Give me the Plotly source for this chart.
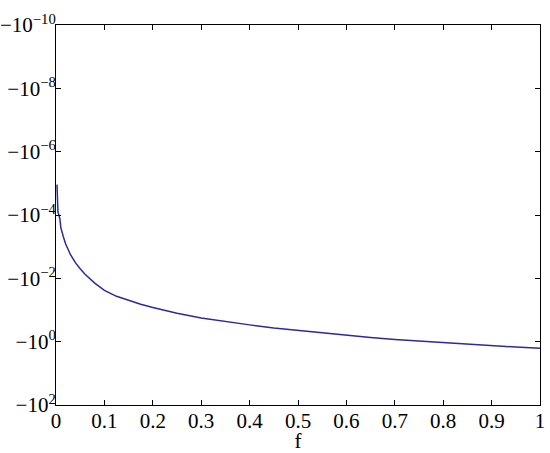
import plotly.graph_objects as go

# === Datos ===
f = [0.002, 0.0025, 0.004, 0.008, 0.01, 0.015, 0.02, 0.03, 0.04, 0.05,
     0.06, 0.08, 0.1, 0.125, 0.15, 0.175, 0.2, 0.25, 0.3, 0.35,
     0.4, 0.45, 0.5, 0.55, 0.6, 0.65, 0.7, 0.75, 0.8, 0.85,
     0.9, 0.95, 1.0]
valores = [-1.1e-5, -6.5e-5, -8.0e-5, -1.3e-4, -2.5e-4, -4.8e-4, -8.3e-4, -1.8e-3, -3.2e-3, -5.0e-3,
           -7.4e-3, -0.0141, -0.024, -0.037, -0.050, -0.066, -0.083, -0.126, -0.178, -0.234,
           -0.295, -0.372, -0.447, -0.537, -0.64, -0.741, -0.851, -0.955, -1.096, -1.23,
           -1.35, -1.48, -1.62]

x_ticks = [0, 0.1, 0.2, 0.3, 0.4, 0.5, 0.6, 0.7, 0.8, 0.9, 1]
x_labels = ["0", "0.1", "0.2", "0.3", "0.4", "0.5", "0.6", "0.7", "0.8", "0.9", "1"]
y_ticks = [-1e-10, -1e-8, -1e-6, -1e-4, -1e-2, -1e0, -1e2]
y_labels = ["\u221210<sup>\u221210</sup>", "\u221210<sup>\u22128</sup>", "\u221210<sup>\u22126</sup>",
            "\u221210<sup>\u22124</sup>", "\u221210<sup>\u22122</sup>", "\u221210<sup>0</sup>",
            "\u221210<sup>2</sup>"]

# eje logaritmico de valores negativos: se grafica la magnitud con el eje invertido
fig = go.Figure()
fig.add_trace(go.Scatter(
    x=f, y=[-v for v in valores],
    mode="lines",
    line=dict(color="#2a2a9e", width=1.5),
    showlegend=False
))

fuente = dict(family="Liberation Serif", size=21, color="black")

fig.update_layout(
    width=550, height=453,
    margin=dict(l=56, r=10, t=25, b=48),
    paper_bgcolor="white", plot_bgcolor="white",
    font=fuente,
)
fig.update_xaxes(
    range=[0, 1], tickvals=x_ticks, ticktext=x_labels,
    showline=True, linecolor="black", linewidth=1, mirror="ticks",
    ticks="inside", ticklen=5, tickcolor="black", showgrid=False, zeroline=False,
    automargin=False, ticklabelstandoff=-3,
    title=dict(text="f", font=fuente, standoff=6),
)
fig.update_yaxes(
    type="log", range=[2, -10],
    tickvals=[-v for v in y_ticks], ticktext=y_labels,
    showline=True, linecolor="black", linewidth=1, mirror="ticks",
    ticks="inside", ticklen=5, tickcolor="black", showgrid=False, zeroline=False,
    automargin=False, ticklabelstandoff=-5,
)

# sin margen en el body para que el grafico ocupe la ventana exacta
fig.write_html("out.html", config={"displayModeBar": False},
               post_script="document.body.style.margin='0';")
